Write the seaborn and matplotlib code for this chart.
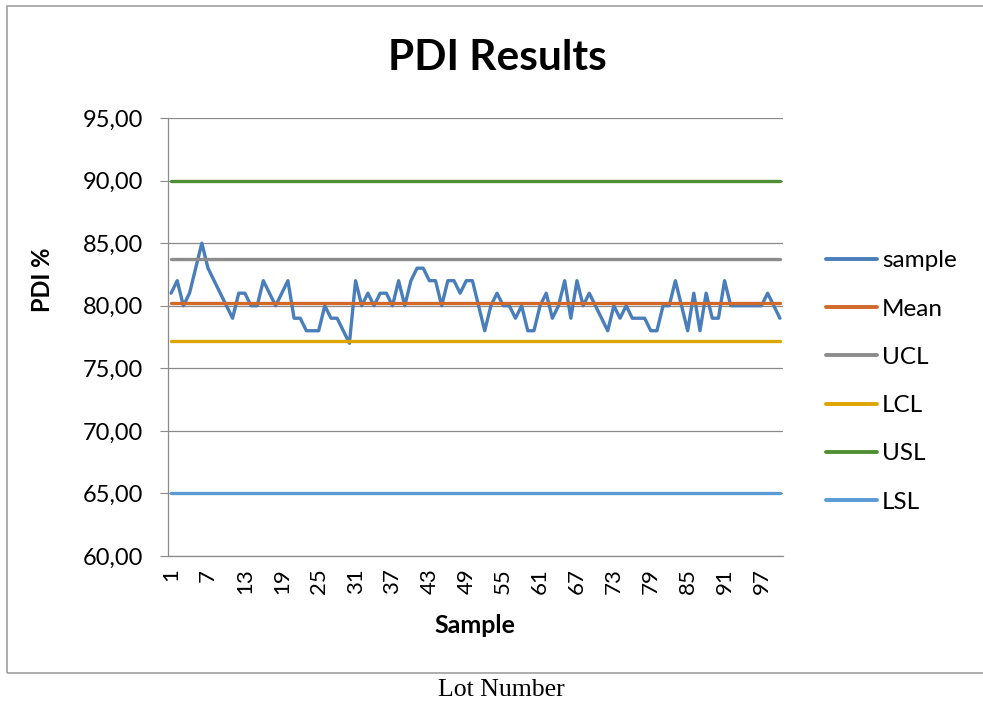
import matplotlib
matplotlib.use("Agg")
import matplotlib.pyplot as plt
from matplotlib.patches import Rectangle
from matplotlib.ticker import FixedLocator, FuncFormatter
import numpy as np
import pandas as pd
import seaborn as sns

# ---- data ----
sample_no = list(range(1, 101))
sample = [81, 82, 80, 81, 83, 85, 83, 82, 81, 80,
          79, 81, 81, 80, 80, 82, 81, 80, 81, 82,
          79, 79, 78, 78, 78, 80, 79, 79, 78, 77,
          82, 80, 81, 80, 81, 81, 80, 82, 80, 82,
          83, 83, 82, 82, 80, 82, 82, 81, 82, 82,
          80, 78, 80, 81, 80, 80, 79, 80, 78, 78,
          80, 81, 79, 80, 82, 79, 82, 80, 81, 80,
          79, 78, 80, 79, 80, 79, 79, 79, 78, 78,
          80, 80, 82, 80, 78, 81, 78, 81, 79, 79,
          82, 80, 80, 80, 80, 80, 80, 81, 80, 79]
mean_val = 80.24
ucl_val = 83.71
lcl_val = 77.20
usl_val = 90.0
lsl_val = 65.0
series_names = ["sample", "Mean", "UCL", "LCL", "USL", "LSL"]
colors = ["#4A7EBB", "#D0692A", "#8C8C8C", "#DDA500", "#4F8F33", "#5B9BD5"]
x_tick_labels = list(range(1, 101, 6))

n = len(sample_no)
df = pd.DataFrame({
    "x": sample_no * 6,
    "value": sample + [mean_val] * n + [ucl_val] * n + [lcl_val] * n + [usl_val] * n + [lsl_val] * n,
    "series": sum([[s] * n for s in series_names], []),
})

sns.set_theme(style="white")
plt.rcParams["font.family"] = ["Lato", "DejaVu Sans"]
plt.rcParams["text.color"] = "black"
plt.rcParams["axes.labelcolor"] = "black"
plt.rcParams["xtick.color"] = "black"
plt.rcParams["ytick.color"] = "black"

fig = plt.figure(figsize=(9.83, 7.02), dpi=100)
ax = fig.add_axes([168 / 983, 1 - 556 / 702, (783 - 168) / 983, (556 - 118) / 702])

sns.lineplot(data=df, x="x", y="value", hue="series", hue_order=series_names,
             palette=colors, linewidth=2.4, ax=ax, legend=False, estimator=None)

ax.set_xlim(0.5, 100.5)
ax.set_ylim(60, 95)
ax.set_yticks(np.arange(60, 96, 5))
ax.yaxis.set_major_formatter(FuncFormatter(lambda v, p: f"{v:.2f}".replace(".", ",")))
ax.yaxis.grid(True, color="#8A8A8A", linewidth=0.9)
ax.xaxis.grid(False)
ax.set_axisbelow(True)

ax.set_xticks(x_tick_labels)
ax.set_xticklabels([str(v) for v in x_tick_labels], rotation=90)
ax.xaxis.set_minor_locator(FixedLocator(np.arange(0.5, 101, 1)))
ax.tick_params(axis="x", which="major", length=0, labelsize=16, pad=9, labelcolor="black")
ax.tick_params(axis="x", which="minor", length=5, width=0.8, color="#8A8A8A", direction="out")
ax.tick_params(axis="y", which="major", length=6, width=0.8, color="#8A8A8A", direction="out",
               labelsize=17, pad=12, left=True, labelcolor="black")

for s in ["top", "right"]:
    ax.spines[s].set_visible(False)
for s in ["left", "bottom"]:
    ax.spines[s].set_color("#8A8A8A")
    ax.spines[s].set_linewidth(0.9)

ax.set_xlabel("Sample", fontsize=18, fontweight="bold")
ax.set_ylabel("PDI %", fontsize=17, fontweight="bold")
ax.xaxis.set_label_coords((475 - 168) / 615, (556 - 614) / 438)
ax.yaxis.set_label_coords((54 - 168) / 615, (556 - 280) / 438)

fig.text(497 / 983, 1 - 58 / 702, "PDI Results", fontsize=30.5, fontweight="bold",
         ha="center", va="center", color="black")

handles = [plt.Line2D([0], [0], color=c, linewidth=2.8) for c in colors]
fig.legend(handles, series_names, loc="center left", bbox_to_anchor=(804 / 983, 1 - 381.5 / 702),
           frameon=False, fontsize=17.5, handlelength=2.1, handletextpad=0.2, labelspacing=1.12)

fig.patches.append(Rectangle((7 / 983, 1 - 673 / 702), 2.0, (673 - 6) / 702,
                             transform=fig.transFigure, fill=False, edgecolor="#A0A0A0",
                             linewidth=1.2))
fig.text(501 / 983, 1 - 690 / 702, "Lot Number", fontsize=18.5, family="Liberation Serif",
         ha="center", va="center", color="black")

fig.savefig("out.png", dpi=100)
